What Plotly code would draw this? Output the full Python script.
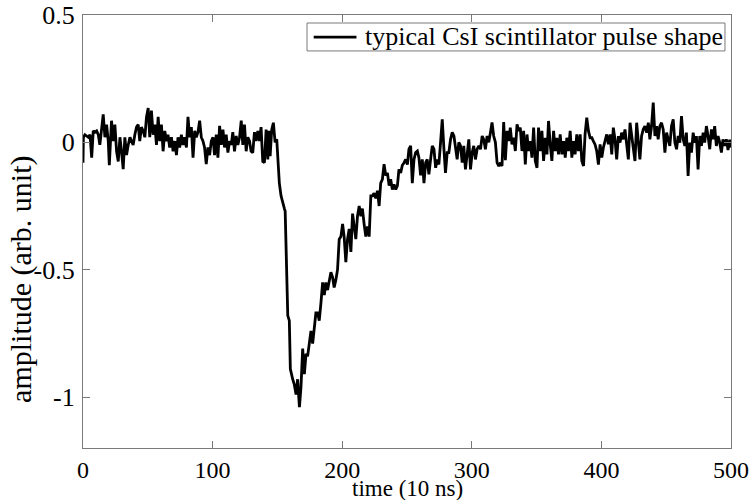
import plotly.graph_objects as go

# ---- data (time in units of 10 ns, amplitude arb. unit) ----
pre1_time = [0, 0.3, 1.5, 2.8, 4.1, 5.4, 6.7, 7.9, 9.2, 10.5, 11.8, 13, 14.4, 15.6, 16.9, 18.2, 19.5, 20.3, 22, 23.3,
             24.6, 25.9, 27.2, 28.5, 29.7, 31, 32.3, 33.6, 34.9, 36.2, 37.4, 38.7, 40, 41.3, 42.6, 43.8, 45.1, 46.4, 47.7, 49,
             50.3, 51.5, 52.8, 54.1, 55.4, 56.7, 58, 59.2, 60.5, 61.8, 63.1, 64.4, 65.6, 66.9, 68.2, 69.5, 70.8, 72.1, 73.3, 74.6,
             75.9, 77.2, 78.5, 79.8]
pre1_amp = [-0.08, 0.02, 0.03, 0.025, 0.02, 0.03, -0.06, 0.045, 0.04, 0.045, 0.03, -0.01, 0.06, 0.11, 0.02, 0.07, 0.005, -0.09, 0.085, 0.005,
            0.07, -0.035, -0.075, 0.02, -0.035, -0.105, 0.02, -0.05, -0.01, 0.02, 0.005, -0.01, 0.03, 0.06, 0.07, 0.005, 0.06, 0.045, 0.02, 0.1,
            0.135, 0.02, 0.125, 0.03, 0.07, -0.01, 0.1, 0.005, 0.07, -0.035, 0.045, 0.005, 0.03, -0.02, 0.02, -0.035, 0.005, -0.05, 0.02, -0.02,
            0.03, -0.01, 0.02, -0.02]

pre2_time = [81, 82.3, 83.6, 84.9, 86.2, 87.4, 88.7, 90, 91.3, 92.6, 93.8, 95.1, 96.4, 97.7, 99, 100.3, 101.5, 102.8,
             104.1, 105.4, 106.7, 108, 109.2, 110.5, 111.8, 113.1, 114.4, 115.6, 116.9, 118.2, 119.5, 120.8, 122.1, 123.3, 124.6, 125.9, 127.2, 128.5,
             129.7, 131, 132.3, 133.6, 134.9, 136.2, 137.4, 138.7]
pre2_amp = [0.1, 0.02, 0.06, -0.06, 0.045, 0.02, 0.04, 0.085, 0.02, 0.005, -0.02, -0.085, -0.02, -0.05, 0.005, 0.02, -0.05, 0.03,
            -0.06, 0.065, -0.01, 0.05, -0.02, 0.03, -0.04, 0.005, -0.01, 0.04, -0.035, 0.025, -0.01, 0.02, 0.085, -0.01, 0.07, -0.035, 0.02, 0.005,
            -0.035, -0.04, 0.04, 0.005, 0.045, 0.005, 0.06, -0.075]

pulse_time = [140, 141.3, 142.6, 143.4, 144.4, 145.6, 146.9, 148.2, 149.5, 150.3, 151.5, 152.8, 154.1, 155.4, 156, 157, 158, 159.2, 160, 161.8,
              163, 164.4, 165.6, 167, 168.2, 169.5, 170.8, 172.1, 173.3, 174.6, 175.9, 177.2, 178.5, 179.7, 181, 182.3, 183.6, 184.9]
pulse_amp = [-0.08, 0.05, -0.067, 0.045, -0.054, 0.05, 0.077, 0.0, 0.012, -0.067, -0.16, -0.21, -0.24, -0.26, -0.27, -0.5, -0.68, -0.70, -0.89, -0.93,
             -0.95, -0.99, -0.93, -1.04, -0.96, -0.81, -0.91, -0.83, -0.84, -0.79, -0.74, -0.79, -0.71, -0.67, -0.67, -0.70, -0.63, -0.55]

decay_time = [186.2, 187.4, 188.7, 190, 191.3, 192.6, 193.8, 195.1, 196.4, 197.7, 199, 200.3, 201.5, 202.8, 204.1, 205.4, 206.7, 208, 209.2, 210.5,
              211.8, 213.1, 214.4, 215.6, 216.9, 218.2, 219.5, 220.8, 222.1, 223.3, 224.6, 225.9, 227.2, 228.5, 229.7, 231, 232.3, 233.6, 234.9, 236.2,
              237.4, 238.7, 240, 241.3, 242.6, 243.8]
decay_amp = [-0.60, -0.55, -0.58, -0.54, -0.51, -0.53, -0.57, -0.54, -0.50, -0.38, -0.37, -0.32, -0.37, -0.47, -0.38, -0.34, -0.43, -0.28, -0.33, -0.38,
             -0.29, -0.25, -0.29, -0.26, -0.32, -0.37, -0.33, -0.37, -0.21, -0.21, -0.20, -0.22, -0.19, -0.25, -0.16, -0.145, -0.086, -0.13, -0.12, -0.17,
             -0.145, -0.185, -0.165, -0.185, -0.17, -0.106]

tail1_time = [245.1, 246.4, 247.7, 249, 250.3, 251.5, 252.8, 254.1, 255.4, 256.7, 258, 259.2, 260.5, 261.8, 263.1, 264.4, 265.6, 266.9, 268.2, 269.5,
              270.8, 272.1, 273.3, 274.6, 275.9, 277.2, 278.5, 279.7, 281, 282.3, 283.6, 284.9, 286.2, 287.4, 288.7, 290, 291.3, 292.6, 293.8, 295.1,
              296.4, 297.7, 299, 300.3, 301.5, 302.8, 304.1, 305.4, 306.7, 308, 309.2, 310.5, 311.8, 313.1, 314.4, 315.6, 316.9, 318.2, 319.5, 320.8,
              322.1, 323.3]
tail1_amp = [-0.12, -0.09, -0.08, -0.067, -0.087, -0.027, -0.014, -0.16, -0.067, -0.04, -0.034, -0.06, -0.13, -0.067, -0.16, -0.08, -0.067, -0.126, -0.067, -0.014,
             -0.027, -0.1, -0.067, -0.087, 0.0, 0.09, -0.027, -0.12, -0.04, -0.04, 0.012, 0.039, 0.025, -0.027, -0.067, 0.0, -0.014, -0.08, -0.014, -0.106,
             -0.04, 0.012, -0.106, -0.04, -0.014, -0.067, -0.027, -0.014, -0.027, 0.025, 0.012, -0.027, 0.025, 0.0, 0.039, 0.078, 0.025, 0.0, -0.08, -0.093,
             -0.08, -0.093]

tail2_time = [324.6, 325.9, 327.2, 328.5, 329.7, 331, 332.3, 333.6, 334.9, 336.2, 337.4, 338.7, 340, 341.3, 342.6, 343.8, 345.1, 346.4, 347.7, 349,
              350.3, 351.5, 352.8, 354.1, 355.4, 356.7, 358, 359.2, 360.5, 361.8, 363.1, 364.4, 365.6, 366.9, 368.2, 369.5, 370.8, 372.1, 373.3, 374.6,
              375.9, 377.2, 378.5, 379.7, 381, 382.3, 383.6, 384.9, 386.2, 387.4, 388.7, 390, 391.3, 392.6, 393.8, 395.1, 396.4, 397.7, 399, 400.3,
              401.5, 402.8, 404.1, 405.4, 406.7, 408, 409.2]
tail2_amp = [0.08, -0.07, 0.045, 0.005, 0.058, -0.008, 0.018, -0.034, 0.071, 0.045, 0.058, -0.034, 0.045, -0.087, 0.031, -0.034, 0.005, -0.06, 0.058, -0.073,
             -0.1, 0.058, -0.034, 0.045, -0.073, 0.018, -0.047, 0.084, -0.008, -0.073, 0.045, -0.034, 0.018, -0.047, 0.031, -0.047, 0.005, -0.06, 0.018, -0.034,
             0.045, -0.06, 0.005, -0.047, 0.031, -0.034, 0.031, -0.073, -0.093, 0.031, 0.097, 0.045, 0.018, 0.018, 0.005, -0.008, -0.034, -0.087, -0.008, -0.06,
             -0.021, 0.005, 0.031, -0.008, 0.031, -0.047, 0.058]

tail3_time = [410.5, 411.8, 413.1, 414.4, 415.6, 416.9, 418.2, 419.5, 420.8, 422.1, 423.3, 424.6, 425.9, 427.2, 428.5, 429.7, 431, 432.3, 433.6, 434.9,
              436.2, 437.4, 438.7, 440, 441.3, 442.6, 443.8, 445.1, 446.4, 447.7, 449, 450.3, 451.5, 452.8, 454.1, 455.4, 456.7, 458, 459.2, 460.5,
              461.8, 463.1, 464.4, 465.6, 466.9, 468.2, 469.5, 470.8, 472.1, 473.3, 474.6, 475.9, 477.2, 478.5, 479.7, 481, 482.3, 483.6, 484.9, 486.2,
              487.4, 488.7, 490, 491.3, 492.6, 493.8, 495.1, 496.4, 497.7, 499, 500]
tail3_amp = [0.012, -0.067, 0.025, -0.001, 0.038, 0.012, 0.051, -0.014, -0.067, 0.077, 0.025, -0.014, -0.073, 0.077, -0.001, -0.067, 0.025, 0.051, 0.064, 0.038,
             0.077, 0.012, 0.064, 0.156, 0.025, 0.064, 0.012, 0.064, 0.077, 0.051, -0.04, 0.038, 0.012, -0.014, 0.064, 0.09, -0.001, -0.027, 0.025, -0.001,
             0.103, 0.012, -0.014, 0.038, -0.132, -0.001, -0.04, 0.038, -0.001, 0.025, -0.106, 0.025, -0.014, 0.038, -0.001, 0.064, 0.025, -0.027, 0.051, 0.012,
             0.064, -0.014, 0.025, -0.001, -0.04, 0.012, -0.014, 0.012, -0.03, 0.01, -0.02]

x_ticks = [0, 100, 200, 300, 400, 500]
y_ticks = [-1, -0.5, 0, 0.5]
y_tick_labels = ["-1", "-0.5", "0", "0.5"]
series_name = "typical CsI scintillator pulse shape"
x_title = "time (10 ns)"
y_title = "amplitude (arb. unit)"

segments = [(pre1_time, pre1_amp), (pre2_time, pre2_amp), (pulse_time, pulse_amp), (decay_time, decay_amp),
            (tail1_time, tail1_amp), (tail2_time, tail2_amp), (tail3_time, tail3_amp)]
time, amp = [], []
for t, a in segments:
    n = min(len(t), len(a))
    time += t[:n]
    amp += a[:n]

FONT = "Liberation Serif, Times New Roman, serif"
FRAME = "#7a7a7a"

fig = go.Figure()
fig.add_trace(go.Scatter(x=time, y=amp, mode="lines", name=series_name,
                         line=dict(color="black", width=2.8), showlegend=False))

# legend box drawn in paper coordinates (compact, like the reference)
fig.add_shape(type="rect", xref="paper", yref="paper", x0=0.3457, x1=0.9907, y0=0.917, y1=0.9815,
              line=dict(color=FRAME, width=1), fillcolor="white", layer="above")
fig.add_shape(type="line", xref="paper", yref="paper", x0=0.356, x1=0.422, y0=0.949, y1=0.949,
              line=dict(color="black", width=2.8), layer="above")
fig.add_annotation(xref="paper", yref="paper", x=0.432, y=0.951, xanchor="left", yanchor="middle",
                   text=series_name, showarrow=False, font=dict(family=FONT, size=26, color="black"))

# axis titles
fig.add_annotation(xref="paper", yref="paper", x=-0.096, y=0.39, xanchor="center", yanchor="middle",
                   text=y_title, textangle=-90, showarrow=False, font=dict(family=FONT, size=30, color="black"))
fig.add_annotation(xref="paper", yref="paper", x=0.5, y=-0.0924, xanchor="center", yanchor="middle",
                   text=x_title, showarrow=False, font=dict(family=FONT, size=23, color="black"))

fig.update_layout(
    width=753, height=500,
    margin=dict(l=83, r=22, t=15, b=52),
    plot_bgcolor="white", paper_bgcolor="white",
    font=dict(family=FONT, size=24, color="black"),
    showlegend=False,
)
fig.update_xaxes(range=[0, 500], tickvals=x_ticks, ticks="inside", ticklen=7, automargin=False,
                 tickcolor=FRAME, showline=True, linecolor=FRAME, linewidth=1.3,
                 mirror="ticks", showgrid=False, zeroline=False,
                 tickfont=dict(family=FONT, size=24))
fig.update_yaxes(range=[-1.2, 0.5], tickvals=y_ticks, ticktext=y_tick_labels, ticks="inside", ticklen=7, automargin=False,
                 tickcolor=FRAME, showline=True, linecolor=FRAME, linewidth=1.3,
                 mirror="ticks", showgrid=False, zeroline=False, ticklabelstandoff=2,
                 tickfont=dict(family=FONT, size=26))

fig.write_html("out.html")
